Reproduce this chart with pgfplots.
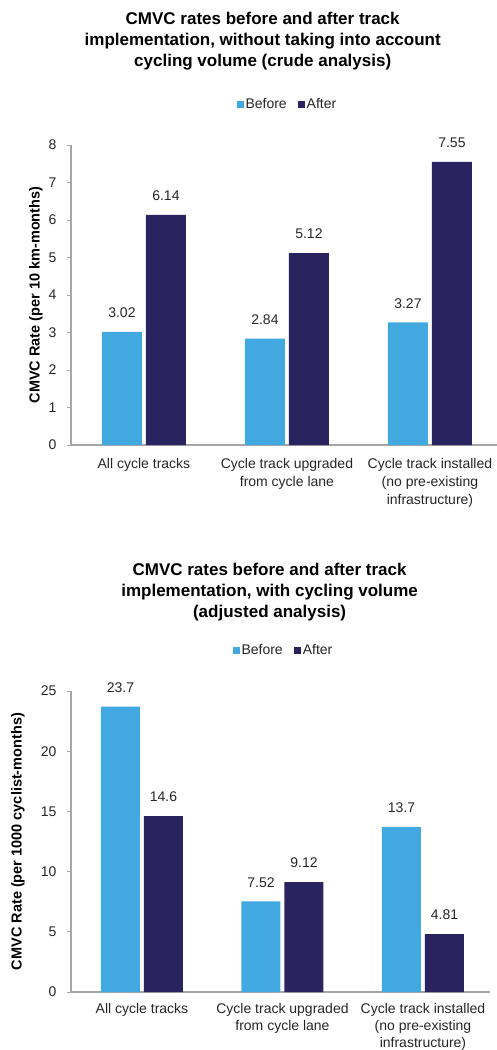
\documentclass[border=0pt]{standalone}
\usepackage{pgfplots}
\pgfplotsset{compat=1.18}
\usepackage{fontspec}
\setmainfont{Liberation Sans}
\definecolor{before}{HTML}{42A9E0}
\definecolor{after}{HTML}{29245F}
\definecolor{axgray}{HTML}{A6A6A6}
\pgfplotsset{
 mystyle/.style={
  scale only axis,
  ybar=4pt,
  bar width=40pt,
  axis x line*=bottom, axis y line*=left,
  axis line style={axgray, line width=1.1pt, -},
  ytick style={axgray, line width=1pt},
  tick align=outside, major tick length=4pt,
  xtick style={draw=none},
  xtick={0,1,2},
  xticklabels={All cycle tracks, {Cycle track upgraded\\from cycle lane}, {Cycle track installed\\(no pre-existing\\infrastructure)}},
  xticklabel style={align=center, font=\fontsize{14}{18}\selectfont, text=black!85, yshift=-6pt},
  yticklabel style={font=\fontsize{14}{16}\selectfont, text=black!85, xshift=-7pt},
  /pgf/number format/assume math mode=true,
  ymin=0,
  enlarge y limits=false,
  point meta=explicit symbolic,
  nodes near coords,
  every node near coord/.append style={font=\fontsize{14}{16}\selectfont, text=black!85, inner sep=0pt, yshift=14pt},
  legend columns=2,
  legend style={draw=none, font=\fontsize{14}{16}\selectfont, text=black!85, /tikz/every even column/.append style={column sep=9pt}},
  area legend,
  legend image code/.code={\fill[##1] (0pt,-3.5pt) rectangle (7pt,3.5pt);},
  title style={align=center, font=\bfseries\fontsize{17}{21}\selectfont, inner sep=0pt},
  every axis y label/.style={at={(axis description cs:0,0.5)},rotate=90,anchor=center,font=\bfseries\fontsize{14.5}{16}\selectfont},
 }
}
\begin{document}
\begin{tikzpicture}
\path[use as bounding box] (0pt,0pt) rectangle (497pt,-1050pt);
\begin{axis}[mystyle,
  at={(71pt,-445pt)}, anchor=south west,
  width=426pt, height=300pt,
  xmin=-0.51, xmax=2.469,
  ymax=8, ytick={0,1,...,8},
  ylabel={CMVC Rate (per 10 km-months)},
  ylabel style={yshift=35pt},
  title={CMVC rates before and after track\\implementation, without taking into account\\cycling volume (crude analysis)},
  title style={at={(0.45,1)}, anchor=south, yshift=69pt},
  legend style={at={(0.508,1)}, anchor=center, yshift=41pt},
]
\addplot[fill=before, draw=none] coordinates {(0,3.02) [3.02] (1,2.84) [2.84] (2,3.27) [3.27]};
\addplot[fill=after, draw=none] coordinates {(0,6.14) [6.14] (1,5.12) [5.12] (2,7.55) [7.55]};
\legend{Before, After}
\end{axis}
\begin{axis}[mystyle,
  at={(71pt,-992pt)}, anchor=south west,
  width=419pt, height=301pt,
  bar width=39pt,
  xmin=-0.505, xmax=2.477,
  ymax=25, ytick={0,5,...,25},
  xticklabel style={font=\fontsize{14}{17}\selectfont, yshift=2pt},
  ylabel={CMVC Rate (per 1000 cyclist-months)},
  ylabel style={yshift=53pt},
  title={CMVC rates before and after track\\implementation, with cycling volume\\(adjusted analysis)},
  title style={at={(0.474,1)}, anchor=south, yshift=64pt},
  legend style={at={(0.507,1)}, anchor=center, yshift=41pt},
]
\addplot[fill=before, draw=none] coordinates {(0,23.7) [23.7] (1,7.52) [7.52] (2,13.7) [13.7]};
\addplot[fill=after, draw=none] coordinates {(0,14.6) [14.6] (1,9.12) [9.12] (2,4.81) [4.81]};
\legend{Before, After}
\end{axis}
\end{tikzpicture}
\end{document}
